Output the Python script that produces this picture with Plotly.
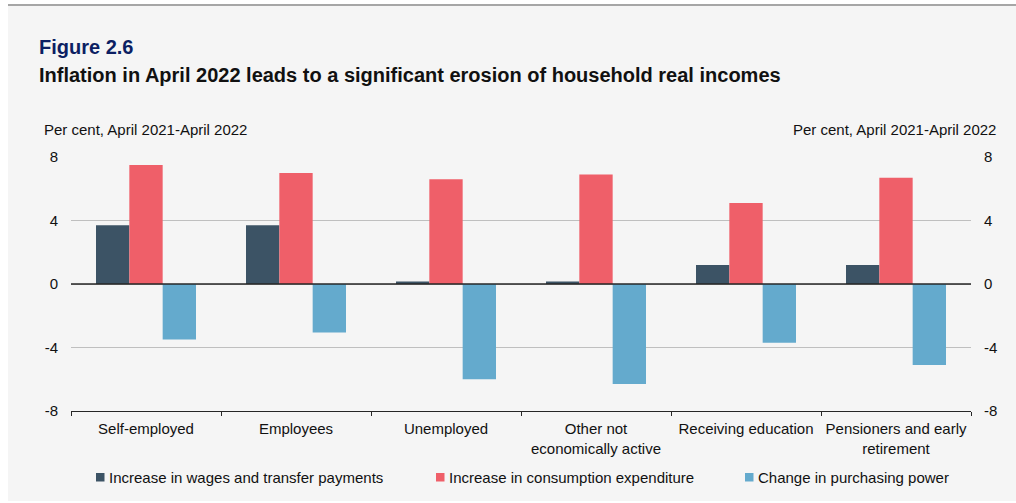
import plotly.graph_objects as go

# Household groups and the three measures (per cent, April 2021-April 2022)
categories = [
    "Self-employed",
    "Employees",
    "Unemployed",
    "Other not<br>economically active",
    "Receiving education",
    "Pensioners and early<br>retirement",
]
series_names = [
    "Increase in wages and transfer payments",
    "Increase in consumption expenditure",
    "Change in purchasing power",
]
wages_transfers = [3.7, 3.7, 0.15, 0.15, 1.2, 1.2]
consumption_exp = [7.5, 7.0, 6.6, 6.9, 5.1, 6.7]
purchasing_power = [-3.5, -3.05, -6.0, -6.3, -3.7, -5.1]
series_values = [wages_transfers, consumption_exp, purchasing_power]
series_colors = ["#3c5365", "#ef5f69", "#64aacd"]

y_ticks = [8, 4, 0, -4, -8]

W, H = 1016, 503
PL, PR, PT, PB = 71, 971, 157, 411  # plot area in pixels
FONT = "Liberation Sans, Arial, sans-serif"


def px(x):
    return (x - PL) / (PR - PL)


def py(y):
    return (PB - y) / (PB - PT)


fig = go.Figure()
for name, vals, col in zip(series_names, series_values, series_colors):
    fig.add_trace(go.Bar(x=categories, y=vals, name=name, marker=dict(color=col, line=dict(width=0)),
                         showlegend=False))

# invisible trace so the right-hand axis is drawn
fig.add_trace(go.Scatter(x=[categories[0]], y=[0], yaxis="y2", mode="markers",
                         marker=dict(opacity=0), showlegend=False, hoverinfo="skip"))

shapes = [
    # grey panel with a top rule
    dict(type="rect", xref="paper", yref="paper", x0=px(8), x1=px(1016), y0=py(501), y1=py(5),
         fillcolor="#f5f5f5", line=dict(width=0), layer="below"),
    dict(type="line", xref="paper", yref="paper", x0=px(8), x1=px(1016), y0=py(5), y1=py(5),
         line=dict(color="#a6a6a6", width=2), layer="below"),
    # zero line
    dict(type="line", xref="paper", yref="y", x0=0, x1=1, y0=0, y1=0,
         line=dict(color="#262626", width=1.3), layer="above"),
]

annotations = [
    dict(text="<b>Figure 2.6</b>", x=px(37), y=py(47), xref="paper", yref="paper", xanchor="left",
         yanchor="middle", showarrow=False, font=dict(family=FONT, size=20, color="#0c1f63")),
    dict(text="<b>Inflation in April 2022 leads to a significant erosion of household real incomes</b>",
         x=px(37), y=py(75), xref="paper", yref="paper", xanchor="left", yanchor="middle",
         showarrow=False, font=dict(family=FONT, size=20, color="#111111")),
    dict(text="Per cent, April 2021-April 2022", x=px(42), y=py(129), xref="paper", yref="paper",
         xanchor="left", yanchor="middle", showarrow=False, font=dict(family=FONT, size=15, color="#111111")),
    dict(text="Per cent, April 2021-April 2022", x=px(998), y=py(129), xref="paper", yref="paper",
         xanchor="right", yanchor="middle", showarrow=False, font=dict(family=FONT, size=15, color="#111111")),
]

# legend: small squares followed by the series names
legend_x = [96, 436, 745]
for name, col, lx in zip(series_names, series_colors, legend_x):
    shapes.append(dict(type="rect", xref="paper", yref="paper", x0=px(lx), x1=px(lx + 8.5),
                       y0=py(481.5), y1=py(473), fillcolor=col, line=dict(width=0)))
    annotations.append(dict(text=name, x=px(lx + 10.5), y=py(477), xref="paper", yref="paper",
                            xanchor="left", yanchor="middle", showarrow=False,
                            font=dict(family=FONT, size=15, color="#111111")))

yaxis_common = dict(range=[-8, 8], tickvals=y_ticks, ticktext=[str(t) for t in y_ticks],
                    tickfont=dict(family=FONT, size=15, color="#111111"), ticks="", zeroline=False,
                    fixedrange=True, automargin=False)

fig.update_layout(
    width=W, height=H,
    margin=dict(l=PL, r=W - PR, t=PT, b=H - PB),
    paper_bgcolor="#ffffff", plot_bgcolor="rgba(0,0,0,0)",
    barmode="group", bargap=1 / 3, bargroupgap=0,
    font=dict(family=FONT, size=15, color="#111111"),
    xaxis=dict(type="category", showline=True, linecolor="#262626", linewidth=1.3,
               ticks="outside", tickson="boundaries", ticklen=4, tickcolor="#262626", tickwidth=1.3,
               showgrid=False, tickangle=0, automargin=False, ticklabelstandoff=4,
               tickfont=dict(family=FONT, size=15, color="#111111"), fixedrange=True),
    yaxis=dict(**yaxis_common, showgrid=True, gridcolor="#bfbfbf", gridwidth=1.3, side="left",
               ticklabelstandoff=12),
    yaxis2=dict(**yaxis_common, overlaying="y", side="right", showgrid=False, ticklabelstandoff=12),
    shapes=shapes, annotations=annotations, showlegend=False,
)

fig.write_html("out.html")
